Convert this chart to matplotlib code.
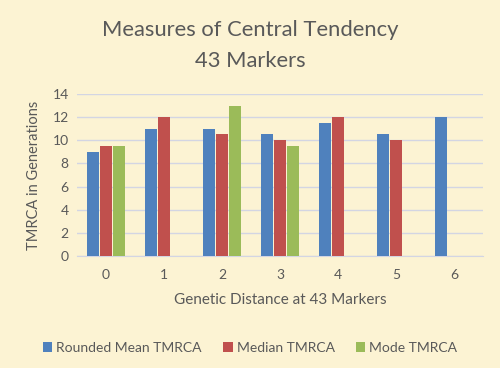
import matplotlib
matplotlib.use("Agg")
import matplotlib.pyplot as plt
import numpy as np

categories = ["0", "1", "2", "3", "4", "5", "6"]
mean_tmrca = [9, 11, 11, 10.5, 11.5, 10.5, 12]
median_tmrca = [9.5, 12, 10.5, 10, 12, 10, np.nan]
mode_tmrca = [9.5, np.nan, 13, 9.5, np.nan, np.nan, np.nan]
series_names = ["Rounded Mean TMRCA", "Median TMRCA", "Mode TMRCA"]
colors = ["#4F81BD", "#C0504D", "#9BBB59"]

plt.rcParams['font.family'] = ['Lato', 'DejaVu Sans']
bg = "#FCF3D3"
txt = "#595959"

fig = plt.figure(figsize=(5, 3.68), dpi=100, facecolor=bg)
ax = fig.add_axes([0.154, 0.3043, 0.812, 0.4403])
ax.set_facecolor(bg)

x = np.arange(len(categories))
w = 0.19
step = 0.224
for i, (vals, name, c) in enumerate(zip([mean_tmrca, median_tmrca, mode_tmrca], series_names, colors)):
    ax.bar(x + (i - 1) * step, vals, width=w, color=c, label=name, zorder=3)

ax.set_xlim(-0.5, len(categories) - 0.5)
ax.set_ylim(0, 14)
ax.set_yticks(range(0, 15, 2))
ax.set_xticks(x)
ax.set_xticklabels(categories)
ax.grid(axis='y', color="#D3D5E3", linewidth=1, zorder=0)
for s in ["top", "right", "left"]:
    ax.spines[s].set_visible(False)
ax.spines["bottom"].set_color("#D3D5E3")
ax.tick_params(axis='both', length=0, labelsize=10, colors=txt, pad=6)
ax.tick_params(axis='x', pad=9)

ax.set_ylabel("TMRCA in Generations", fontsize=10.5, color=txt, labelpad=8)
ax.set_xlabel("Genetic Distance at 43 Markers", fontsize=11, color=txt, labelpad=9)

fig.text(0.5, 0.918, "Measures of Central Tendency", ha='center', va='center', fontsize=15.8, color=txt)
fig.text(0.5, 0.834, "43 Markers", ha='center', va='center', fontsize=15.8, color=txt)

leg = fig.legend(loc='center', bbox_to_anchor=(0.5, 0.054), ncol=3, frameon=False,
                 fontsize=10, handlelength=0.7, handleheight=0.7, handletextpad=0.3,
                 columnspacing=1.5, labelcolor=txt)

fig.savefig("out.png", dpi=100, facecolor=bg)
